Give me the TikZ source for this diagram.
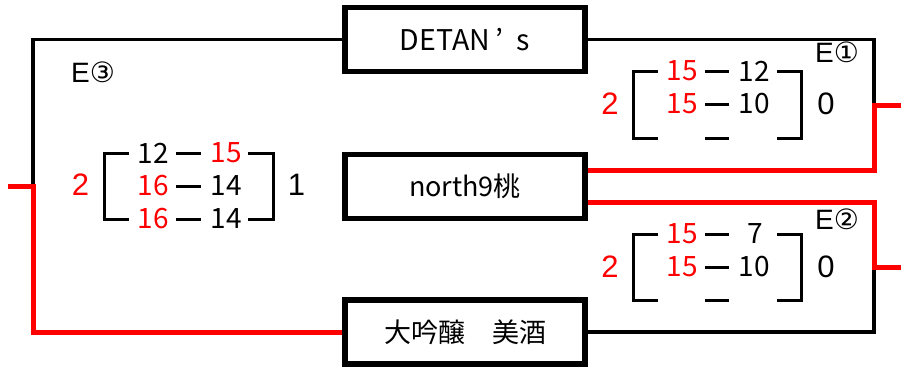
\documentclass[tikz,border=0pt]{standalone}
\usepackage{fontspec}
\setmainfont{Noto Sans CJK JP}
\newfontfamily\arialf{Liberation Sans}
\newfontfamily\dvsf{DejaVu Sans}
\definecolor{pred}{RGB}{255,0,0}
\tikzset{
  team/.style={draw, line width=5.5pt, minimum width=240pt, minimum height=64pt, inner sep=0pt, font=\fontsize{27}{27}\selectfont},
  blk/.style={line width=3.5pt},
  redl/.style={line width=5pt, draw=pred},
  brk/.style={line width=3pt},
  sc/.style={inner sep=0pt, font=\fontsize{28}{28}\selectfont},
  scr/.style={sc, text=pred},
  tot/.style={inner sep=0pt, font=\arialf\fontsize{31}{31}\selectfont},
  lbl/.style={inner sep=0pt, font=\fontsize{28}{28}\selectfont},
}
\begin{document}
\begin{tikzpicture}[x=1pt,y=-1pt]
\useasboundingbox[fill=white] (0,0) rectangle (901,367);
% teams
\node[team, font=\fontsize{28.5}{28.5}\selectfont] (detan) at (465,39.5) {DETAN\kern6pt’\kern13pt s};
\node[team] (north) at (465,186.25) {north9桃};
\node[team] (dai) at (465,332) {大吟醸　美酒};
% junction coordinates
\coordinate (L) at (33,186);
\coordinate (Lend) at (8,186);
\coordinate (R1) at (874,105);
\coordinate (R1end) at (901,105);
\coordinate (R2) at (874,267.5);
\coordinate (R2end) at (901,267.5);
% connectors
\draw[blk] (detan.west) -| (L);
\draw[redl] (Lend) -- (L) |- (dai.west);
\draw[blk] (detan.east) -| (R1);
\draw[redl] ([yshift=16pt]north.east) -| (R1) -- (R1end);
\draw[blk] (dai.east) -| (R2);
\draw[redl] ([yshift=-16pt]north.east) -| (R2) -- (R2end);
% labels
\node[lbl] (e3) at (93,72) {{\arialf E}{\dvsf ③}};
\node[lbl] (e1) at (837,52) {{\arialf E}{\dvsf ①}};
\node[lbl] (e2) at (837,219) {{\arialf E}{\dvsf ②}};
% left block (cx=188.5, ry=153)
\begin{scope}[shift={(188.5,153)}]
\draw[brk] (-59.5,0) -- (-84.5,0) -- (-84.5,66) -- (-59.5,66);
\draw[brk] (59.5,0) -- (84.5,0) -- (84.5,66) -- (59.5,66);
\draw[brk] (-12.5,0) -- (12.5,0);
\draw[brk] (-12.5,33) -- (12.5,33);
\draw[brk] (-12.5,66) -- (12.5,66);
\node[sc]  (a11) at (-35.5,0) {12};
\node[scr] (a12) at (38,0) {15};
\node[scr] (a21) at (-35.5,33) {16};
\node[sc]  (a22) at (38,33) {14};
\node[scr] (a31) at (-35.5,66) {16};
\node[sc]  (a32) at (38,66) {14};
\node[tot, text=pred] (at1) at (-108,32) {2};
\node[tot] (at2) at (108,32) {1};
\end{scope}
% right top block (cx=717, ry=71)
\begin{scope}[shift={(717,71)}]
\draw[brk] (-59,0) -- (-84,0) -- (-84,67) -- (-59,67);
\draw[brk] (60,0) -- (84,0) -- (84,67) -- (60,67);
\draw[brk] (-12,0) -- (12,0);
\draw[brk] (-12,33) -- (12,33);
\draw[brk] (-12,67) -- (12,67);
\node[scr] (b11) at (-35,0) {15};
\node[sc]  (b12) at (37,0) {12};
\node[scr] (b21) at (-35,33) {15};
\node[sc]  (b22) at (37,33) {10};
\node[tot, text=pred] (bt1) at (-107,33) {2};
\node[tot] (bt2) at (109,33) {0};
\end{scope}
% right bottom block (cx=717, ry=234)
\begin{scope}[shift={(717,234)}]
\draw[brk] (-59,0) -- (-84,0) -- (-84,66) -- (-59,66);
\draw[brk] (60,0) -- (84,0) -- (84,66) -- (60,66);
\draw[brk] (-12,0) -- (12,0);
\draw[brk] (-12,33) -- (12,33);
\draw[brk] (-12,66) -- (12,66);
\node[scr] (c11) at (-35,0) {15};
\node[sc]  (c12) at (38,0) {7};
\node[scr] (c21) at (-35,33) {15};
\node[sc]  (c22) at (37,33) {10};
\node[tot, text=pred] (ct1) at (-107,33) {2};
\node[tot] (ct2) at (109,33) {0};
\end{scope}
\end{tikzpicture}
\end{document}
